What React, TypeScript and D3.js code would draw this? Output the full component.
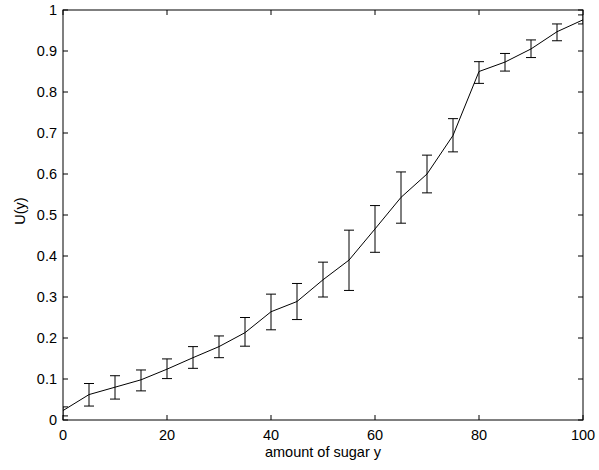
import * as d3 from 'd3'

const sugar = [0, 5, 10, 15, 20, 25, 30, 35, 40, 45, 50, 55, 60, 65, 70, 75, 80, 85, 90, 95, 100]
const utility = [0.023, 0.062, 0.08, 0.098, 0.124, 0.152, 0.179, 0.213, 0.264, 0.289, 0.342, 0.39, 0.466, 0.543, 0.6, 0.694, 0.85, 0.873, 0.905, 0.947, 0.976]
const lower = [0.01, 0.034, 0.051, 0.071, 0.101, 0.126, 0.152, 0.18, 0.22, 0.245, 0.3, 0.316, 0.409, 0.48, 0.554, 0.654, 0.821, 0.851, 0.884, 0.925, 0.966]
const upper = [0.032, 0.089, 0.108, 0.122, 0.149, 0.179, 0.205, 0.25, 0.307, 0.333, 0.385, 0.463, 0.523, 0.605, 0.646, 0.735, 0.874, 0.894, 0.927, 0.966, 0.988]

const xTicks = [0, 20, 40, 60, 80, 100]
const yTicks = [0, 0.1, 0.2, 0.3, 0.4, 0.5, 0.6, 0.7, 0.8, 0.9, 1]
const yTickLabels = ['0', '0.1', '0.2', '0.3', '0.4', '0.5', '0.6', '0.7', '0.8', '0.9', '1']

const width = 599
const height = 470
const margin = { top: 10, right: 16, bottom: 50, left: 63 }
const font = 'Liberation Sans, Arial, Helvetica, sans-serif'

export default function App() {
  const x = d3.scaleLinear().domain([0, 100]).range([margin.left, width - margin.right])
  const y = d3.scaleLinear().domain([0, 1]).range([height - margin.bottom, margin.top])
  const [x0, x1] = x.range()
  const [y0, y1] = y.range()
  const tick = 5
  const cap = 5

  const line = d3
    .line<number>()
    .x((_, i) => x(sugar[i]))
    .y((d) => y(d))

  return (
    <svg
      width={width}
      height={height}
      style={{ position: 'absolute', left: 0, top: 0, background: '#fff' }}
      fontFamily={font}
      fontSize={14.5}
    >
      <defs>
        <clipPath id="plot">
          <rect x={x0} y={y1} width={x1 - x0} height={y0 - y1} />
        </clipPath>
      </defs>
      <rect width={width} height={height} fill="#fff" />

      <g clipPath="url(#plot)" stroke="#000" strokeWidth={1} fill="none">
        {sugar.map((s, i) => (
          <g key={s}>
            <line x1={x(s)} x2={x(s)} y1={y(lower[i])} y2={y(upper[i])} />
            <line x1={x(s) - cap} x2={x(s) + cap} y1={y(lower[i])} y2={y(lower[i])} />
            <line x1={x(s) - cap} x2={x(s) + cap} y1={y(upper[i])} y2={y(upper[i])} />
          </g>
        ))}
        <path d={line(utility) || ''} />
      </g>

      {/* axes box with inward ticks */}
      <g stroke="#000" strokeWidth={1} fill="none">
        <rect x={x0} y={y1} width={x1 - x0} height={y0 - y1} />
        {xTicks.map((t) => (
          <g key={t}>
            <line x1={x(t)} x2={x(t)} y1={y0} y2={y0 - tick} />
            <line x1={x(t)} x2={x(t)} y1={y1} y2={y1 + tick} />
          </g>
        ))}
        {yTicks.map((t) => (
          <g key={t}>
            <line x1={x0} x2={x0 + tick} y1={y(t)} y2={y(t)} />
            <line x1={x1} x2={x1 - tick} y1={y(t)} y2={y(t)} />
          </g>
        ))}
      </g>

      <g fill="#000">
        {xTicks.map((t) => (
          <text key={t} x={x(t)} y={y0 + 20} textAnchor="middle">
            {t}
          </text>
        ))}
        {yTicks.map((t, i) => (
          <text key={t} x={x0 - 6} y={y(t) + 5} textAnchor="end">
            {yTickLabels[i]}
          </text>
        ))}
        <text x={(x0 + x1) / 2} y={y0 + 37} textAnchor="middle">
          amount of sugar y
        </text>
        <text
          transform={`translate(25,${(y0 + y1) / 2 - 4}) rotate(-90)`}
          textAnchor="middle"
        >
          U(y)
        </text>
      </g>
    </svg>
  )
}
